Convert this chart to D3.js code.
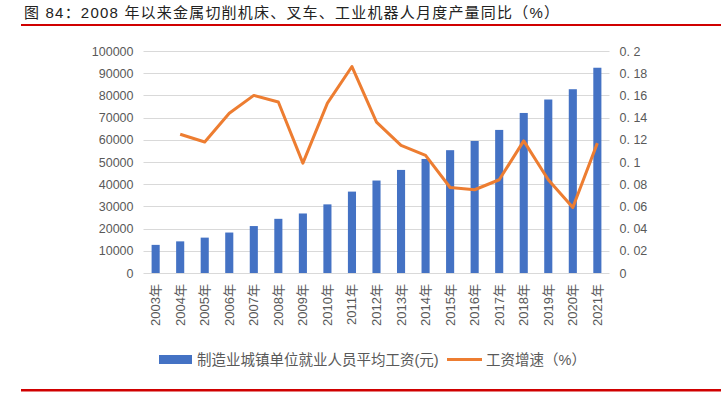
<!DOCTYPE html>
<meta charset="utf-8">
<style>
body { margin: 0; background: #fff; }
svg text { font-family: "Liberation Sans", Arial, "Noto Sans CJK SC", sans-serif; }
.tick text { fill: #595959; font-size: 12.5px; }
.grid line { stroke: #d9d9d9; stroke-width: 1; }
</style>
<svg width="724" height="397"></svg>
<script src="https://cdn.jsdelivr.net/npm/d3@7"></script>
<script>

var years = ["2003年","2004年","2005年","2006年","2007年","2008年","2009年","2010年","2011年","2012年",
             "2013年","2014年","2015年","2016年","2017年","2018年","2019年","2020年","2021年"];
// 制造业城镇单位就业人员平均工资(元)
var wage = [12671,14251,15934,18225,21144,24404,26810,30916,36665,41650,
            46431,51369,55324,59470,64452,72088,78147,82783,92459];
// 工资增速（%），2003 无数据
var growth = [null,0.125,0.118,0.144,0.160,0.154,0.099,0.153,0.186,0.136,
              0.115,0.106,0.077,0.075,0.084,0.119,0.084,0.059,0.117];
var leftTicks = [0,10000,20000,30000,40000,50000,60000,70000,80000,90000,100000];
var rightTicks = [0,0.02,0.04,0.06,0.08,0.1,0.12,0.14,0.16,0.18,0.2];

var svg = d3.select("svg");

var x = d3.scaleBand().domain(years).range([143.5, 609.5]).paddingInner(0.67).paddingOuter(0.33);
var yL = d3.scaleLinear().domain([0, 100000]).range([273, 51]);
var yR = d3.scaleLinear().domain([0, 0.2]).range([273, 51]);

// title
svg.append("text")
    .attr("x", 24).attr("y", 18)
    .style("font-size", "15px").style("fill", "#222").style("letter-spacing", "1.2px")
    .text("图 84：2008 年以来金属切削机床、叉车、工业机器人月度产量同比（%）");
svg.append("rect").attr("x", 21).attr("y", 24).attr("width", 700).attr("height", 2).attr("fill", "#d00000");
svg.append("rect").attr("x", 21).attr("y", 389).attr("width", 700).attr("height", 2.5).attr("fill", "#d00000");

// grid
svg.append("g").attr("class", "grid")
  .selectAll("line").data(leftTicks).enter().append("line")
    .attr("x1", 143.5).attr("x2", 609.5)
    .attr("y1", function(d) { return Math.round(yL(d)) + 0.5; })
    .attr("y2", function(d) { return Math.round(yL(d)) + 0.5; });

// left axis
var gl = svg.append("g").attr("transform", "translate(143.5,0)")
    .call(d3.axisLeft(yL).tickValues(leftTicks).tickSize(0).tickPadding(10).tickFormat(d3.format("d")));
gl.select(".domain").remove();

// right axis
var gr = svg.append("g").attr("transform", "translate(609.5,0)")
    .call(d3.axisRight(yR).tickValues(rightTicks).tickSize(0).tickPadding(10)
      .tickFormat(function(d) { return d === 0 ? "0" : String(+d.toFixed(2)).replace(".", ". "); }));
gr.select(".domain").remove();

// bars
svg.append("g").selectAll("rect").data(wage).enter().append("rect")
    .attr("x", function(d, i) { return x(years[i]); })
    .attr("width", x.bandwidth())
    .attr("y", function(d) { return yL(d); })
    .attr("height", function(d) { return yL(0) - yL(d); })
    .attr("fill", "#4472C4");

// line
var line = d3.line()
    .defined(function(d) { return d != null; })
    .x(function(d, i) { return x(years[i]) + x.bandwidth() / 2; })
    .y(function(d) { return yR(d); });
svg.append("path").datum(growth)
    .attr("d", line)
    .attr("fill", "none")
    .attr("stroke", "#ED7D31")
    .attr("stroke-width", 3)
    .attr("stroke-linejoin", "round");

// x labels (rotated)
svg.append("g").selectAll("text").data(years).enter().append("text")
    .attr("transform", function(d) {
      return "translate(" + (x(d) + x.bandwidth() / 2 + 4.5) + ",284) rotate(-90)";
    })
    .attr("text-anchor", "end")
    .style("font-size", "13px").style("fill", "#595959")
    .text(function(d) { return d; });

// legend
var lg = svg.append("g");
lg.append("rect").attr("x", 159).attr("y", 355).attr("width", 33).attr("height", 9).attr("fill", "#4472C4");
lg.append("text").attr("x", 197).attr("y", 365).style("font-size", "14.5px").style("fill", "#595959")
    .text("制造业城镇单位就业人员平均工资(元)");
lg.append("line").attr("x1", 447).attr("x2", 482).attr("y1", 359.5).attr("y2", 359.5)
    .attr("stroke", "#ED7D31").attr("stroke-width", 3);
lg.append("text").attr("x", 486).attr("y", 365).style("font-size", "14.5px").style("fill", "#595959")
    .text("工资增速（%）");

</script>
